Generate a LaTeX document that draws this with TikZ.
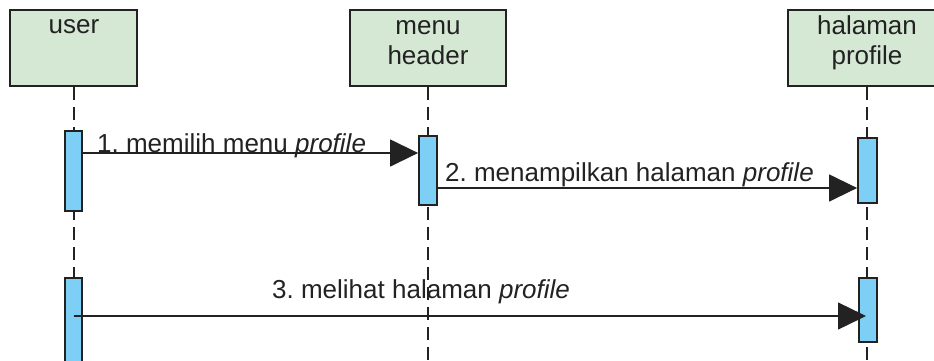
\documentclass[tikz,border=0pt]{standalone}
\usepackage{fontspec}
\setmainfont{Liberation Sans}
\usetikzlibrary{arrows.meta}
\definecolor{boxfill}{HTML}{D5E8D4}
\definecolor{actfill}{HTML}{7DCFF5}
\definecolor{ink}{HTML}{222222}
\frenchspacing
\tikzset{
  headbox/.style={draw=ink, fill=boxfill, line width=2.2pt, minimum width=#1, minimum height=76pt, inner sep=0pt},
  actbox/.style={draw=ink, fill=actfill, line width=1.8pt, inner sep=0pt},
  lifeline/.style={draw=ink, line width=1.6pt, dash pattern=on 13pt off 7pt},
  msg/.style={draw=ink, line width=1.4pt, -{Triangle[length=28pt, width=27pt]}},
  lbl/.style={font=\fontsize{26}{30}\selectfont, inner sep=0pt, text=ink}
}
\begin{document}
\begin{tikzpicture}[x=1pt, y=-1pt]
\useasboundingbox (0,0) rectangle (934,360);
% header boxes
\node[headbox=127pt] (user) at (73.5,48) {};
\node[headbox=156pt] (menu) at (428,48) {};
\node[headbox=158pt] (hal) at (867,48) {};
\node[lbl, anchor=base] (tuser) at (74,33) {user};
\node[lbl, anchor=base] (tmenu1) at (428,34) {menu};
\node[lbl, anchor=base] (tmenu2) at (428,64) {header};
\node[lbl, anchor=base] (thal1) at (867,34) {halaman};
\node[lbl, anchor=base] (thal2) at (867,64) {profile};
% lifelines
\coordinate (uend) at (74,362);
\coordinate (mend) at (428,362);
\coordinate (hend) at (867,362);
\draw[lifeline] (user.south -| uend) -- (uend);
\draw[lifeline] (menu.south -| mend) -- (mend);
\draw[lifeline] (hal.south -| hend) -- (hend);
% activations
\node[actbox, minimum width=17pt, minimum height=80pt] (a1) at (73.5,171) {};
\node[actbox, minimum width=17pt, minimum height=90pt] (a2) at (73.5,323) {};
\node[actbox, minimum width=18pt, minimum height=69pt] (m1) at (428,170.5) {};
\node[actbox, minimum width=19pt, minimum height=65pt] (h1) at (867.5,170.5) {};
\node[actbox, minimum width=18pt, minimum height=64pt] (h2) at (868,310) {};
% messages
\draw[msg] ([xshift=-2pt]a1.east |- 0,153) -- (m1.west |- 0,153);
\draw[msg] ([xshift=-1pt]m1.east |- 0,188) -- (h1.west |- 0,188);
\draw[msg] (a2.center |- 0,316) -- ([xshift=-2pt]h2.center |- 0,316);
% labels
\node[lbl, anchor=base west] (l1) at (97,152) {1. memilih menu \textit{profile}};
\node[lbl, anchor=base west] (l2) at (445,181) {2. menampilkan halaman \textit{profile}};
\node[lbl, anchor=base west] (l3) at (272,298) {3. melihat halaman \textit{profile}};
\end{tikzpicture}
\end{document}
